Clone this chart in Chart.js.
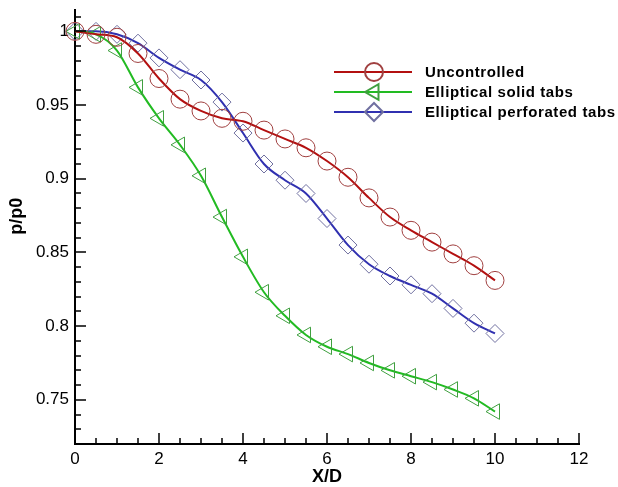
<!DOCTYPE html>
<html>
<head>
<meta charset="utf-8">
<script src="https://cdn.jsdelivr.net/npm/chart.js@4.4.0/dist/chart.umd.min.js"></script>
<style>
  html, body { margin: 0; padding: 0; background: #fff; }
</style>
</head>
<body>
<canvas id="mycanvas" width="618" height="487"></canvas>
<script>
// data (X/D stations every 0.5)
var xd = [0, 0.5, 1, 1.5, 2, 2.5, 3, 3.5, 4, 4.5, 5, 5.5, 6, 6.5, 7, 7.5, 8, 8.5, 9, 9.5, 10];
var uncontrolled = [1.000, 0.998, 0.996, 0.985, 0.968, 0.954, 0.946, 0.941, 0.939, 0.933, 0.927,
                    0.921, 0.912, 0.901, 0.887, 0.874, 0.865, 0.857, 0.849, 0.841, 0.831];
var solidTabs = [1.000, 0.998, 0.987, 0.962, 0.941, 0.923, 0.902, 0.874, 0.847, 0.823, 0.807,
                 0.794, 0.786, 0.781, 0.775, 0.770, 0.766, 0.762, 0.757, 0.751, 0.742];
var perforatedTabs = [1.000, 1.000, 0.998, 0.992, 0.982, 0.974, 0.967, 0.952, 0.931, 0.910, 0.899,
                      0.890, 0.873, 0.855, 0.842, 0.834, 0.828, 0.822, 0.812, 0.802, 0.795];
var seriesNames = ['Uncontrolled', 'Elliptical solid tabs', 'Elliptical perforated tabs'];
var xTicks = [0, 2, 4, 6, 8, 10, 12];
var yTicks = [0.75, 0.8, 0.85, 0.9, 0.95, 1];
var yTitle = 'p/p0';

function pts(ys) {
    var out = [];
    for (var i = 0; i < xd.length; i++) out.push({ x: xd[i], y: ys[i] });
    return out;
}

var font = "'Liberation Sans', Arial, Helvetica, sans-serif";

// tecplot-style inward ticks (major + minor)
var innerTicks = {
    id: 'innerTicks',
    afterDraw: function (chart) {
        var ctx = chart.ctx, xs = chart.scales.x, ys = chart.scales.y, a = chart.chartArea;
        ctx.save();
        ctx.strokeStyle = '#000';
        ctx.lineWidth = 1.5;
        ctx.beginPath();
        for (var i = Math.ceil(xs.min * 2); i <= Math.floor(xs.max * 2); i++) {
            var px = Math.round(xs.getPixelForValue(i / 2));
            var len = (i % 4 === 0) ? 11 : 6;
            ctx.moveTo(px, a.bottom);
            ctx.lineTo(px, a.bottom - len);
        }
        for (var j = Math.ceil(ys.min * 100 - 1e-6); j <= Math.floor(ys.max * 100 + 1e-6); j++) {
            var py = Math.round(ys.getPixelForValue(j / 100));
            var l2 = (j % 5 === 0) ? 11 : 6;
            ctx.moveTo(a.left, py);
            ctx.lineTo(a.left + l2, py);
        }
        ctx.stroke();

        // y title sits a bit above the axis middle in the original
        ctx.translate(17, a.top + (a.bottom - a.top) * 0.475);
        ctx.rotate(-Math.PI / 2);
        ctx.fillStyle = '#000';
        ctx.font = 'bold 18px ' + font;
        ctx.textAlign = 'center';
        ctx.textBaseline = 'middle';
        ctx.fillText(yTitle, 0, 0);
        ctx.restore();
    }
};

// legend drawn inside the plot, like the original
var innerLegend = {
    id: 'innerLegend',
    afterDraw: function (chart) {
        var ctx = chart.ctx;
        ctx.save();
        chart.data.datasets.forEach(function (ds, k) {
            var y = 72 + k * 20;
            ctx.strokeStyle = ds.borderColor;
            ctx.lineWidth = 2;
            ctx.beginPath();
            ctx.moveTo(334, y);
            ctx.lineTo(412, y);
            ctx.stroke();
            ctx.strokeStyle = ds.pointBorderColor;
            ctx.fillStyle = 'rgba(0,0,0,0)';
            Chart.helpers.drawPoint(ctx, {
                pointStyle: ds.pointStyle, radius: ds.pointRadius,
                rotation: ds.pointRotation || 0, borderWidth: 1
            }, 374, y);
            ctx.fillStyle = '#000';
            ctx.font = 'bold 15px ' + font;
            ctx.letterSpacing = '0.6px';
            ctx.textBaseline = 'middle';
            ctx.fillText(ds.label, 425, y + 1);
        });
        ctx.restore();
    }
};

var ctx = document.getElementById('mycanvas');

var chart = new Chart(ctx, {
    type: 'line',
    data: {
        datasets: [{
            label: seriesNames[0],
            data: pts(uncontrolled),
            borderColor: '#b31010',
            borderWidth: 2,
            pointStyle: 'circle',
            pointRadius: 9,
            pointBorderColor: '#a04040',
            pointBackgroundColor: 'rgba(0,0,0,0)',
            pointBorderWidth: 1,
            cubicInterpolationMode: 'monotone',
            clip: false
        }, {
            label: seriesNames[1],
            data: pts(solidTabs),
            borderColor: '#22bb22',
            borderWidth: 2,
            pointStyle: 'triangle',
            pointRotation: -90,
            pointRadius: 9,
            pointBorderColor: '#40a040',
            pointBackgroundColor: 'rgba(0,0,0,0)',
            pointBorderWidth: 1,
            cubicInterpolationMode: 'monotone',
            clip: false
        }, {
            label: seriesNames[2],
            data: pts(perforatedTabs),
            borderColor: '#3030b0',
            borderWidth: 2,
            pointStyle: 'rectRot',
            pointRadius: 9,
            pointBorderColor: '#7070a0',
            pointBackgroundColor: 'rgba(0,0,0,0)',
            pointBorderWidth: 1,
            cubicInterpolationMode: 'monotone',
            clip: false
        }]
    },
    options: {
        responsive: false,
        animation: false,
        layout: { padding: { top: 7, right: 39, left: 0, bottom: 0 } },
        plugins: { legend: { display: false }, tooltip: { enabled: false } },
        scales: {
            x: {
                type: 'linear',
                min: 0, max: 12,
                afterBuildTicks: function (s) { s.ticks = xTicks.map(function (v) { return { value: v }; }); },
                afterFit: function (s) { s.height = 43; s.paddingLeft = 0; s.paddingRight = 0; },
                grid: { display: false, drawTicks: false },
                border: { display: true, color: '#000', width: 2 },
                ticks: { color: '#000', padding: 5, font: { size: 17, family: font } },
                title: { display: true, text: 'X/D', color: '#000', padding: { top: 0, bottom: -1 },
                         font: { size: 18, weight: 'bold', family: font } }
            },
            y: {
                min: 0.72, max: 1.0145,
                afterBuildTicks: function (s) { s.ticks = yTicks.map(function (v) { return { value: v }; }); },
                afterFit: function (s) { s.width = 75; s.paddingTop = 0; s.paddingBottom = 0; },
                grid: { display: false, drawTicks: false },
                border: { display: true, color: '#000', width: 2 },
                ticks: {
                    color: '#000', padding: 6, font: { size: 17, family: font },
                    callback: function (v) { return String(+v.toFixed(2)); }
                }
            }
        }
    },
    plugins: [innerTicks, innerLegend]
});
</script>
</body>
</html>
